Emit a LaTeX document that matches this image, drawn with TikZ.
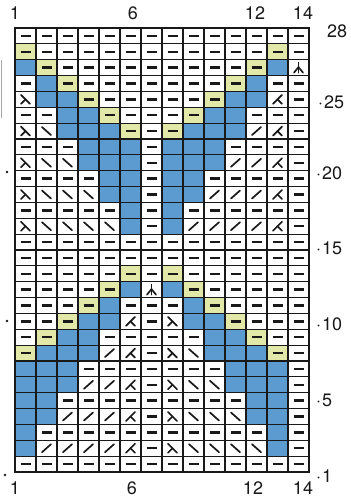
\documentclass[tikz,border=0pt]{standalone}
\usepackage{fontspec}
\setmainfont{TeX Gyre Heros}
\definecolor{cblue}{RGB}{92,155,208}
\definecolor{cyel}{RGB}{226,232,168}
\definecolor{ink}{RGB}{25,25,25}
\tikzset{
  sym/.style={draw=ink, line width=1.7pt, line cap=round},
  dashsym/.style={draw=ink, line width=2.4pt},
  lbl/.style={font=\fontsize{18}{18}\selectfont, text=ink, inner sep=0pt},
  gridln/.style={draw=ink, line width=1.1pt},
}
\newcommand\celld{\draw[dashsym] (-5,0) -- (5,0);}
\newcommand\celly{\fill[cyel] (-10.5,-7.93) rectangle (10.5,7.93); \draw[dashsym] (-5,0) -- (5,0);}
\newcommand\cellb{\fill[cblue] (-10.5,-7.93) rectangle (10.5,7.93);}
\newcommand\cellr{\draw[sym] (-4.5,4) -- (4.5,-4);}
\newcommand\celll{\draw[sym] (-4.5,-4) -- (4.5,4);}
\newcommand\cellL{\draw[sym] (-4.5,-4.5) -- (4.5,4.5); \draw[sym] (0,0) -- (-4.5,4.5);}
\newcommand\cellM{\draw[sym] (4.5,-4.5) -- (-4.5,4.5); \draw[sym] (0,0) -- (4.5,4.5);}
\newcommand\cellT{\draw[sym] (0,-5) -- (0,5); \draw[sym] (-4.5,5) -- (0,-0.5) -- (4.5,5);}
\newcommand\chartrow[2]{%
  \foreach \c [count=\i] in {#2} {%
    \begin{scope}[shift={({15+21*(\i-0.5)},{472-(#1-0.5)*15.857})}]
      \csname cell\c\endcsname
    \end{scope}}}
\begin{document}
\begin{tikzpicture}[x=1pt,y=-1pt]
\useasboundingbox (0,0) rectangle (351,499);
\fill[white] (0,0) rectangle (351,499);
\chartrow{28}{d,d,d,d,d,d,d,d,d,d,d,d,d,d}
\chartrow{27}{y,d,d,d,d,d,d,d,d,d,d,d,y,d}
\chartrow{26}{b,y,d,d,d,d,d,d,d,d,d,y,b,T}
\chartrow{25}{d,b,y,d,d,d,d,d,d,d,y,b,d,d}
\chartrow{24}{L,b,b,y,d,d,d,d,d,y,b,b,M,d}
\chartrow{23}{d,d,b,b,y,d,d,d,y,b,b,d,d,d}
\chartrow{22}{L,l,b,b,b,y,d,y,b,b,b,r,M,d}
\chartrow{21}{d,d,d,b,b,b,d,b,b,b,d,d,d,d}
\chartrow{20}{L,l,l,b,b,b,d,b,b,b,r,r,M,d}
\chartrow{19}{d,d,d,d,b,b,d,b,b,d,d,d,d,d}
\chartrow{18}{L,l,l,l,b,b,d,b,b,r,r,r,M,d}
\chartrow{17}{d,d,d,d,d,b,d,b,d,d,d,d,d,d}
\chartrow{16}{L,l,l,l,l,b,d,b,r,r,r,r,M,d}
\chartrow{15}{d,d,d,d,d,d,d,d,d,d,d,d,d,d}
\chartrow{14}{d,d,d,d,d,d,d,d,d,d,d,d,d,d}
\chartrow{13}{d,d,d,d,d,y,d,y,d,d,d,d,d,d}
\chartrow{12}{d,d,d,d,y,b,T,b,y,d,d,d,d,d}
\chartrow{11}{d,d,d,y,b,d,d,d,b,y,d,d,d,d}
\chartrow{10}{d,d,y,b,b,M,d,L,b,b,y,d,d,d}
\chartrow{9}{d,y,b,b,d,d,d,d,d,b,b,y,d,d}
\chartrow{8}{y,b,b,b,r,M,d,L,l,b,b,b,y,d}
\chartrow{7}{b,b,b,d,d,d,d,d,d,d,b,b,b,d}
\chartrow{6}{b,b,b,r,r,M,d,L,l,l,b,b,b,d}
\chartrow{5}{b,b,d,d,d,d,d,d,d,d,d,b,b,d}
\chartrow{4}{b,b,r,r,r,M,d,L,l,l,l,b,b,d}
\chartrow{3}{b,d,d,d,d,d,d,d,d,d,d,d,b,d}
\chartrow{2}{b,r,r,r,r,M,d,L,l,l,l,l,b,d}
\chartrow{1}{d,d,d,d,d,d,d,d,d,d,d,d,d,d}
% grid
\foreach \i in {1,...,13} \draw[gridln] ({15+21*\i},28) -- ({15+21*\i},472);
\foreach \j in {1,...,27} \draw[gridln] (15,{28+15.857*\j}) -- (309,{28+15.857*\j});
\draw[draw=ink, line width=2.2pt] (15,28) rectangle (309,472);
% column labels
\node[lbl] (t1) at (15,13.5) {1};
\node[lbl] (t6) at (133,13.5) {6};
\node[lbl] (t12) at (255,13.5) {12};
\node[lbl] (t14) at (303,13.5) {14};
\node[lbl] (b1) at (15,488.5) {1};
\node[lbl] (b6) at (132,488.5) {6};
\node[lbl] (b12) at (253,488.5) {12};
\node[lbl] (b14) at (303,488.5) {14};
% row labels
\node[lbl, anchor=west] (r28) at (327,31) {28};
\node[lbl, anchor=west] (r25) at (318,102) {·\kern1pt 25};
\node[lbl, anchor=west] (r20) at (316,173) {·\kern1pt 20};
\node[lbl, anchor=west] (r15) at (316,248) {·\kern1pt 15};
\node[lbl, anchor=west] (r10) at (316,324) {·\kern1pt 10};
\node[lbl, anchor=west] (r5) at (316,400) {·\kern1pt 5};
\node[lbl, anchor=west] (r1) at (316,476) {·\kern1pt 1};
% left dots and edge mark
\fill[ink] (7,172) circle (1.3);
\fill[ink] (7,321) circle (1.3);
\fill[ink] (5,475) circle (1.3);
\draw[gray!70, line width=0.8pt] (1,60) -- (1,118);
\end{tikzpicture}
\end{document}
